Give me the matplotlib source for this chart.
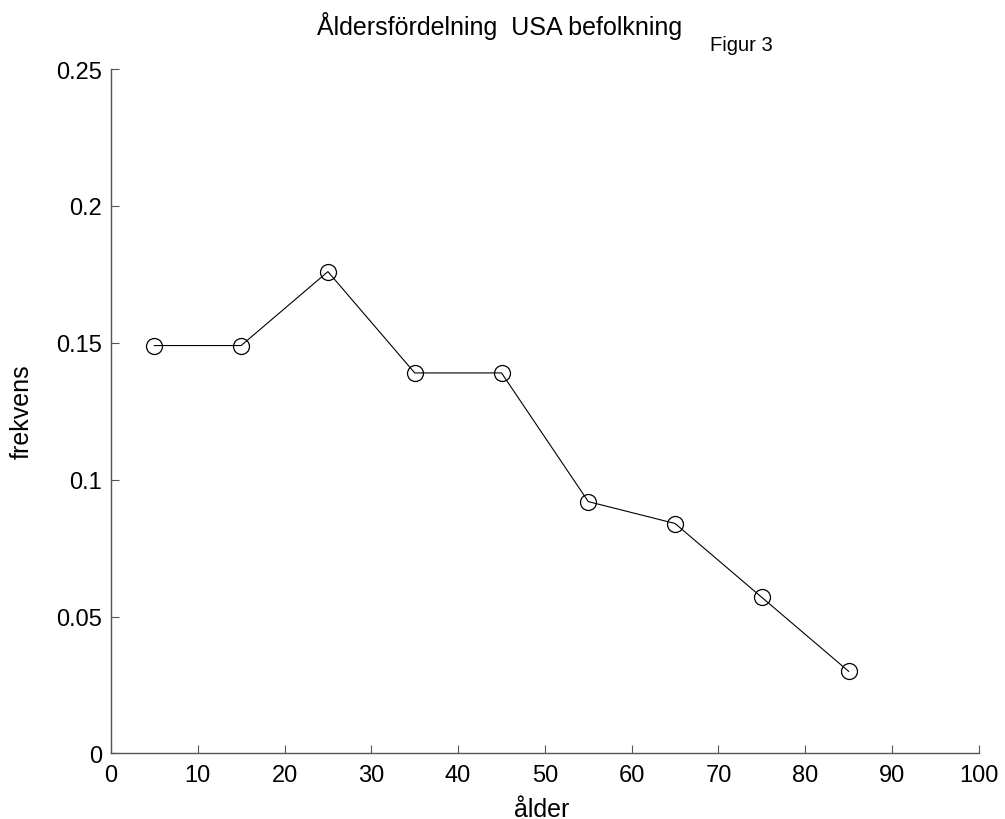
import matplotlib
matplotlib.use("Agg")
import matplotlib.pyplot as plt

plt.rcParams["font.family"] = ["Liberation Sans", "DejaVu Sans"]

# åldersklasser (mittpunkter) och relativ frekvens
alder = [5, 15, 25, 35, 45, 55, 65, 75, 85]
frekvens = [0.149, 0.149, 0.176, 0.139, 0.139, 0.092, 0.084, 0.057, 0.030]

xticks = [0, 10, 20, 30, 40, 50, 60, 70, 80, 90, 100]
yticks = [0, 0.05, 0.1, 0.15, 0.2, 0.25]
yticklabels = ["0", "0.05", "0.1", "0.15", "0.2", "0.25"]

fig = plt.figure(figsize=(10.05, 8.2), dpi=100, facecolor="w")
ax = fig.add_axes([0.1104, 0.0799, 0.8636, 0.8347])

ax.plot(alder, frekvens, color="k", linewidth=0.8, marker="o", markersize=11.5,
        markerfacecolor="none", markeredgecolor="k", markeredgewidth=0.9)

ax.set_xlim(0, 100)
ax.set_ylim(0, 0.25)
ax.set_xticks(xticks)
ax.set_yticks(yticks)
ax.set_yticklabels(yticklabels)

for side in ["top", "right"]:
    ax.spines[side].set_visible(False)
for side in ["left", "bottom"]:
    ax.spines[side].set_color("#555555")
    ax.spines[side].set_linewidth(1.0)

ax.tick_params(direction="in", length=6, width=0.8, color="#555555",
               labelsize=17, labelcolor="k")
ax.tick_params(axis="x", pad=7.5)
ax.tick_params(axis="y", pad=6.5)

# axeltexter och rubrik
fig.text(0.539, 0.004, "ålder", fontsize=18, ha="center", va="baseline")
fig.text(0.022, 0.4976, "frekvens", fontsize=18, rotation=90,
         ha="center", va="center")

fig.text(0.4975, 0.957, "Åldersfördelning  USA befolkning", fontsize=18,
         ha="center", va="baseline")
fig.text(0.7065, 0.9378, "Figur 3", fontsize=14.5, ha="left", va="baseline")

fig.savefig("out.png", dpi=100, facecolor="w")
